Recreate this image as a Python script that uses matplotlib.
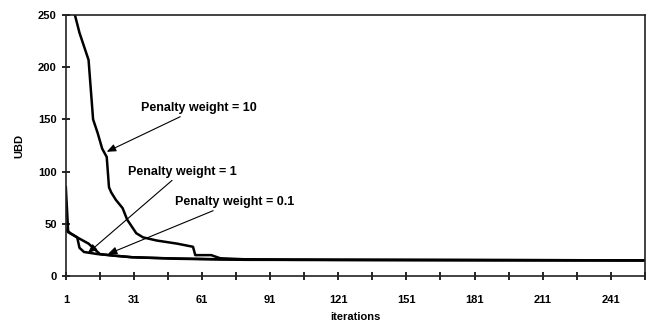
import matplotlib.pyplot as plt
import numpy as np

plt.rcParams['font.family'] = ['Liberation Sans', 'DejaVu Sans']

# penalty weight = 10
w10_x = [4, 5, 7, 9, 11, 13, 15, 17, 19, 20, 21, 23, 26, 28, 32, 35, 41, 50, 57, 58, 65, 69, 80, 100, 256]
w10_y = [262, 250, 233, 220, 207, 150, 137, 122, 114, 85, 80, 73, 65, 54, 41, 37, 34, 31, 28, 20, 20, 17, 16, 15.5, 15]

# penalty weight = 1
w1_x = [1, 2, 3, 6, 7, 9, 12, 15, 20, 30, 45, 70, 120, 256]
w1_y = [85, 43, 41, 37, 27, 23, 22, 21, 20, 18, 17, 16, 15.5, 15]

# penalty weight = 0.1
w01_x = [1, 2, 6, 11, 14, 16, 22, 30, 50, 80, 256]
w01_y = [45, 42, 37, 31, 25, 21, 19.5, 18, 16.5, 15.5, 15]

x_ticks = list(range(1, 257, 15))
x_labels = [str(t) if (t - 1) % 30 == 0 else "" for t in x_ticks]
y_ticks = [0, 50, 100, 150, 200, 250]

fig = plt.figure(figsize=(6.52, 3.23), dpi=100)
ax = fig.add_axes([0.101, 0.1455, 0.888, 0.808])

for xs, ys in [(w10_x, w10_y), (w1_x, w1_y), (w01_x, w01_y)]:
    ax.plot(xs, ys, color="black", linewidth=1.8)

ax.set_xlim(1, 256)
ax.set_ylim(0, 250)
ax.set_xticks(x_ticks)
ax.set_xticklabels(x_labels)
ax.set_yticks(y_ticks)
ax.tick_params(axis="both", direction="inout", length=6, width=1.2, labelsize=8)
ax.tick_params(axis="x", pad=11)
for lab in ax.get_xticklabels() + ax.get_yticklabels():
    lab.set_fontweight("bold")
for s in ax.spines.values():
    s.set_linewidth(1.2)
    s.set_color("#222222")

ax.set_ylabel("UBD", fontsize=8, fontweight="bold", labelpad=10)
ax.set_xlabel("iterations", fontsize=8, fontweight="bold", labelpad=5)

# annotations: text on the right, thin arrow down to its curve
arrow = dict(arrowstyle="-|>,head_length=0.6,head_width=0.25", color="black", lw=0.8,
             shrinkA=0, shrinkB=0)
ax.annotate("Penalty weight = 10", xy=(19, 119), xytext=(34, 161),
            fontsize=9, fontweight="bold", va="center", ha="left", arrowprops=arrow)
ax.annotate("Penalty weight = 1", xy=(10.7, 22), xytext=(28.3, 100),
            fontsize=9, fontweight="bold", va="center", ha="left", arrowprops=arrow)
ax.annotate("Penalty weight = 0.1", xy=(19.5, 21), xytext=(49, 71),
            fontsize=9, fontweight="bold", va="center", ha="left", arrowprops=arrow)

plt.savefig("out.png", dpi=100)
